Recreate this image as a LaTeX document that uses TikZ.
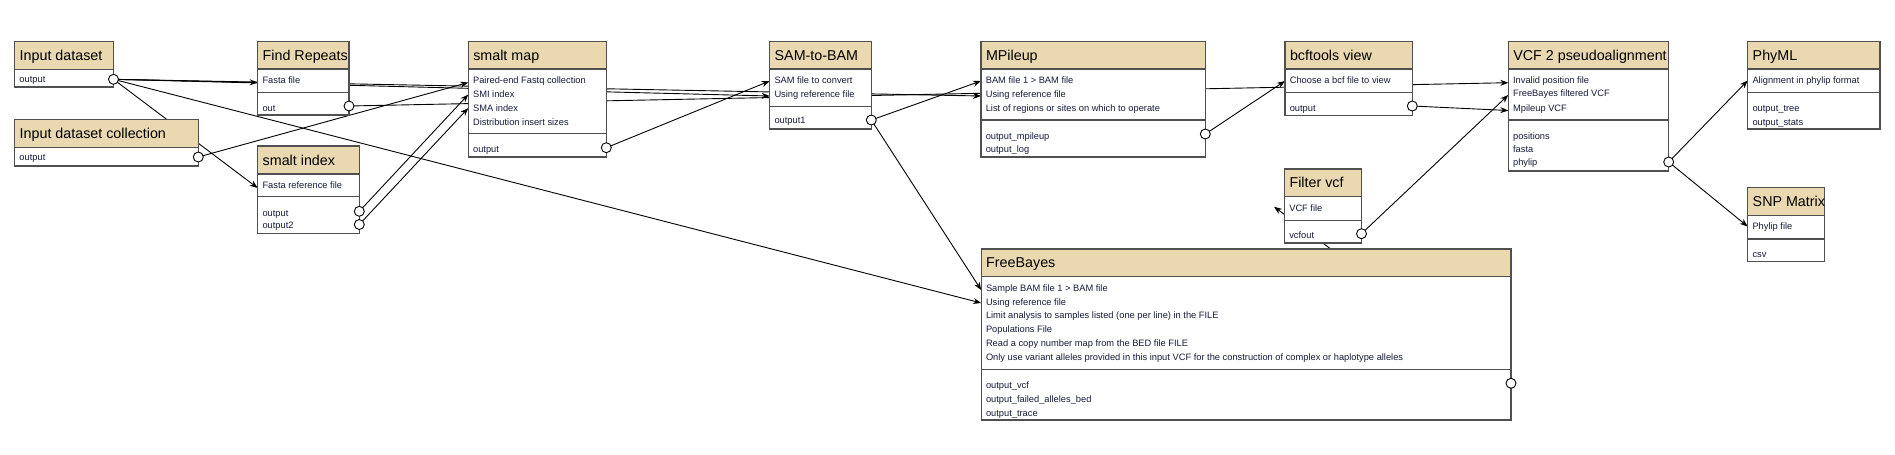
\documentclass[tikz,border=0pt]{standalone}
\usepackage{fontspec}
\setmainfont{Liberation Sans}
\usetikzlibrary{arrows.meta}
\definecolor{hdr}{RGB}{234,216,176}
\definecolor{bordercol}{RGB}{80,80,80}
\definecolor{rowcol}{RGB}{22,28,58}
\pgfdeclarelayer{bg}
\pgfsetlayers{bg,main}
\tikzset{
  gbody/.style={rectangle, draw=bordercol, fill=white, line width=1.3pt, inner sep=0pt, outer sep=0pt, anchor=north west},
  ghead/.style={rectangle, draw=bordercol, fill=hdr, line width=1.3pt, inner sep=0pt, outer sep=0pt, anchor=north west},
  gsep/.style={draw=bordercol, line width=1.3pt},
  gtitle/.style={anchor=west, inner sep=0pt, font=\fontsize{14.3}{16}\selectfont, text height=10.2pt, text depth=0pt, text=black},
  growtext/.style={anchor=west, inner sep=0pt, font=\fontsize{9.3}{11}\selectfont, text height=6.7pt, text depth=0pt, text=rowcol},
  term/.style={circle, draw=black, fill=white, line width=0.9pt, minimum size=10pt, inner sep=0pt},
  edge/.style={draw=black, line width=0.9pt, -{Stealth[length=8pt,width=6pt]}}
}
% name, L, T, R, H, D, B, title
\newcommand{\gbox}[8]{%
  \node[gbody, minimum width={(#4-#2)*1pt}, minimum height={(#7-#3)*1pt}] (#1) at (#2,#3) {};
  \node[ghead, minimum width={(#4-#2)*1pt}, minimum height={(#5-#3)*1pt}] (#1-h) at (#2,#3) {};
  \node[gtitle] (#1-t) at ({#2+4.8},{(#3+#5)/2}) {#8};
  \draw[gsep] (#2,#6) -- (#4,#6);
}
\newcommand{\grow}[4]{\node[growtext] (#1) at ({#2+4.6},#3) {#4};}
\begin{document}
\begin{tikzpicture}[x=1pt,y=-1pt]
\useasboundingbox (0,0) rectangle (1895,455);
% ---------- boxes ----------
\gbox{in1}{14.7}{41.3}{113.5}{69.3}{87}{87}{Input dataset}
\grow{in1-r1}{14.7}{79}{output}
\gbox{in2}{14.7}{119.3}{198.3}{147.3}{166}{166}{Input dataset collection}
\grow{in2-r1}{14.7}{157}{output}
\gbox{fr}{257.7}{41.3}{349}{69}{92.3}{115}{Find Repeats}
\grow{fr-r1}{257.7}{80}{Fasta file}
\grow{fr-r2}{257.7}{107.7}{out}
\gbox{si}{257.7}{146}{359.3}{174}{196.7}{233.3}{smalt index}
\grow{si-r1}{257.7}{184.7}{Fasta reference file}
\grow{si-r2}{257.7}{212.7}{output}
\grow{si-r3}{257.7}{225}{output2}
\gbox{sm}{468.3}{41.3}{606.3}{69}{133.7}{157}{smalt map}
\grow{sm-r1}{468.3}{80}{Paired-end Fastq collection}
\grow{sm-r2}{468.3}{93.7}{SMI index}
\grow{sm-r3}{468.3}{107.7}{SMA index}
\grow{sm-r4}{468.3}{121.7}{Distribution insert sizes}
\grow{sm-r5}{468.3}{149}{output}
\gbox{sb}{769.7}{41.3}{871.3}{69}{106.3}{129}{SAM-to-BAM}
\grow{sb-r1}{769.7}{80}{SAM file to convert}
\grow{sb-r2}{769.7}{93.7}{Using reference file}
\grow{sb-r3}{769.7}{120}{output1}
\gbox{mp}{981}{41.3}{1205.3}{69}{120}{157}{MPileup}
\grow{mp-r1}{981}{80}{BAM file 1 > BAM file}
\grow{mp-r2}{981}{93.7}{Using reference file}
\grow{mp-r3}{981}{107.7}{List of regions or sites on which to operate}
\grow{mp-r4}{981}{136}{output\_mpileup}
\grow{mp-r5}{981}{149.3}{output\_log}
\gbox{bv}{1285}{41.3}{1412.3}{69}{92.3}{115.3}{bcftools view}
\grow{bv-r1}{1285}{80}{Choose a bcf file to view}
\grow{bv-r2}{1285}{107.7}{output}
\gbox{fv}{1284.5}{169}{1361.5}{196.7}{220.3}{243}{Filter vcf}
\grow{fv-r1}{1284.5}{207.7}{VCF file}
\grow{fv-r2}{1284.5}{235.3}{vcfout}
\gbox{vp}{1508.3}{41.3}{1668.7}{69}{120}{171}{VCF 2 pseudoalignment}
\grow{vp-r1}{1508.3}{80}{Invalid position file}
\grow{vp-r2}{1508.3}{93.3}{FreeBayes filtered VCF}
\grow{vp-r3}{1508.3}{107.7}{Mpileup VCF}
\grow{vp-r4}{1508.3}{136}{positions}
\grow{vp-r5}{1508.3}{149.3}{fasta}
\grow{vp-r6}{1508.3}{162.3}{phylip}
\gbox{ph}{1747.7}{41.3}{1880}{69}{92.3}{129}{PhyML}
\grow{ph-r1}{1747.7}{80}{Alignment in phylip format}
\grow{ph-r2}{1747.7}{107.7}{output\_tree}
\grow{ph-r3}{1747.7}{121.7}{output\_stats}
\gbox{snp}{1747.7}{187.3}{1824.3}{215.7}{239}{261.7}{SNP Matrix}
\grow{snp-r1}{1747.7}{225.7}{Phylip file}
\grow{snp-r2}{1747.7}{254}{csv}
\gbox{fb}{981.2}{249}{1511}{276.7}{369.3}{420}{FreeBayes}
\grow{fb-r1}{981.2}{287.7}{Sample BAM file 1 > BAM file}
\grow{fb-r2}{981.2}{301.7}{Using reference file}
\grow{fb-r3}{981.2}{315.3}{Limit analysis to samples listed (one per line) in the FILE}
\grow{fb-r4}{981.2}{328.7}{Populations File}
\grow{fb-r5}{981.2}{343}{Read a copy number map from the BED file FILE}
\grow{fb-r6}{981.2}{356.7}{Only use variant alleles provided in this input VCF for the construction of complex or haplotype alleles}
\grow{fb-r7}{981.2}{384.7}{output\_vcf}
\grow{fb-r8}{981.2}{398.7}{output\_failed\_alleles\_bed}
\grow{fb-r9}{981.2}{412.7}{output\_trace}
% ---------- output terminals ----------
\node[term] (in1-o) at (113.5,79.3) {};
\node[term] (in2-o) at (198.3,157) {};
\node[term] (fr-o) at (349,106) {};
\node[term] (si-o1) at (359.3,211.3) {};
\node[term] (si-o2) at (359.3,224.5) {};
\node[term] (sm-o) at (606.3,147.7) {};
\node[term] (sb-o) at (871.3,120) {};
\node[term] (mp-o) at (1205.3,134) {};
\node[term] (bv-o) at (1412.3,106) {};
\node[term] (fv-o) at (1361.5,233.7) {};
\node[term] (vp-o) at (1668.7,162) {};
\node[term] (fb-o) at (1511,383.3) {};
% ---------- input terminals ----------
\coordinate (fr-a1) at (257.7,82.5);
\coordinate (si-a1) at (257.7,188);
\coordinate (sm-a1) at (468.3,82.5);
\coordinate (sm-a2) at (468.3,94.5);
\coordinate (sm-a3) at (468.3,108);
\coordinate (sb-a1) at (769.7,81);
\coordinate (sb-a2) at (769.7,96);
\coordinate (mp-a1) at (981,81);
\coordinate (mp-a2) at (981,96);
\coordinate (bv-a1) at (1285,81);
\coordinate (fv-a1) at (1274,206.7);
\coordinate (vp-a1) at (1508.3,82.7);
\coordinate (vp-a2) at (1508.3,95);
\coordinate (vp-a3) at (1508.3,110.5);
\coordinate (ph-a1) at (1747.7,80.5);
\coordinate (snp-a1) at (1747.7,226.5);
\coordinate (fb-a1) at (981.2,290);
\coordinate (fb-a2) at (981.2,303);
% ---------- connectors ----------
\begin{pgfonlayer}{bg}
\draw[edge] (in1-o.center) -- (fr-a1);
\draw[edge] (in1-o.center) -- (si-a1);
\draw[edge] (in1-o.center) -- (sb-a2);
\draw[edge] (in1-o.center) -- (mp-a2);
\draw[edge] (in1-o.center) -- (fb-a2);
\draw[edge] (in2-o.center) -- (sm-a1);
\draw[edge] (si-o1.center) -- (sm-a2);
\draw[edge] (si-o2.center) -- (sm-a3);
\draw[edge] (fr-o.center) -- (vp-a1);
\draw[edge] (sm-o.center) -- (sb-a1);
\draw[edge] (sb-o.center) -- (mp-a1);
\draw[edge] (sb-o.center) -- (fb-a1);
\draw[edge] (mp-o.center) -- (bv-a1);
\draw[edge] (bv-o.center) -- (vp-a3);
\draw[edge] (fv-o.center) -- (vp-a2);
\draw[edge] (fb-o.center) -- (fv-a1);
\draw[edge] (vp-o.center) -- (ph-a1);
\draw[edge] (vp-o.center) -- (snp-a1);
\end{pgfonlayer}
\end{tikzpicture}
\end{document}
